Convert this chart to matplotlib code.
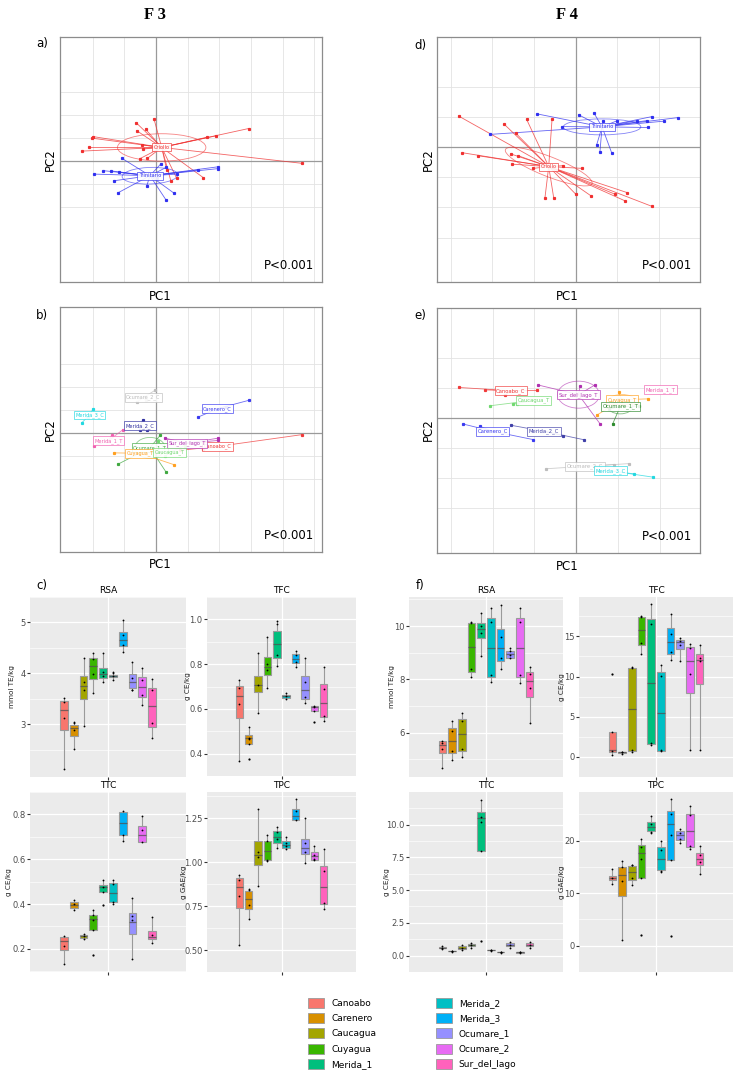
import matplotlib
matplotlib.use("Agg")
import matplotlib.pyplot as plt
from matplotlib.patches import Ellipse, Patch

W, H = 744, 1072

# ---------------- box plot data (F3 = fresh, F4 = fermented) ----------------
sites = ["Canoabo", "Carenero", "Caucagua", "Cuyagua", "Merida_1",
         "Merida_2", "Merida_3", "Ocumare_1", "Ocumare_2", "Sur_del_lago"]
site_colors = ["#F8766D", "#D89000", "#A3A500", "#39B600", "#00BF7D",
               "#00BFC4", "#00B0F6", "#9590FF", "#E76BF3", "#FF62BC"]

# each row: whislo, q1, median, q3, whishi
f3_rsa = [[2.12, 2.88, 3.28, 3.45, 3.52], [2.51, 2.77, 2.92, 2.99, 3.05],
          [2.97, 3.49, 3.74, 3.95, 4.31], [3.61, 3.89, 4.14, 4.31, 4.39],
          [3.83, 3.90, 3.98, 4.10, 4.39], [3.86, 3.92, 3.95, 3.96, 4.02],
          [4.42, 4.53, 4.66, 4.82, 5.04], [3.67, 3.71, 3.82, 3.98, 4.22],
          [3.37, 3.53, 3.73, 3.92, 4.11], [2.73, 2.95, 3.35, 3.71, 3.89]]
f3_rsa_pts = [[3.43, 3.13], [3.03, 2.88], [3.83, 3.67], [4.29, 3.98], [4.02, 3.94],
              [4.00, 3.94], [4.75, 4.56], [3.91, 3.67], [3.87, 3.58], [3.67, 3.03]]
f3_rsa_out = [[], [], [], [], [], [], [], [], [], []]

f3_tfc = [[0.369, 0.560, 0.659, 0.703, 0.729], [0.443, 0.443, 0.469, 0.484, 0.518],
          [0.583, 0.675, 0.707, 0.745, 0.851], [0.692, 0.752, 0.787, 0.831, 0.921],
          [0.790, 0.828, 0.888, 0.949, 0.994], [0.646, 0.650, 0.656, 0.661, 0.671],
          [0.787, 0.803, 0.824, 0.845, 0.857], [0.627, 0.646, 0.684, 0.745, 0.828],
          [0.592, 0.592, 0.610, 0.613, 0.615], [0.544, 0.564, 0.628, 0.710, 0.786]]
f3_tfc_pts = [[0.694, 0.622], [0.469, 0.465], [0.707], [0.80, 0.773], [0.978, 0.84],
              [0.656], [0.84, 0.81], [0.72, 0.654], [0.61], [0.69, 0.566]]
f3_tfc_out = [[], [0.376], [], [], [], [], [], [], [0.541], []]

f3_ttc = [[0.133, 0.196, 0.235, 0.254, 0.256], [0.372, 0.381, 0.394, 0.408, 0.418],
          [0.246, 0.250, 0.257, 0.264, 0.268], [0.283, 0.283, 0.332, 0.351, 0.372],
          [0.456, 0.456, 0.476, 0.485, 0.506], [0.401, 0.411, 0.450, 0.492, 0.508],
          [0.682, 0.706, 0.761, 0.810, 0.814], [0.157, 0.265, 0.321, 0.358, 0.425],
          [0.679, 0.679, 0.710, 0.749, 0.793], [0.226, 0.242, 0.254, 0.282, 0.344]]
f3_ttc_pts = [[0.214], [0.40], [0.257], [0.35, 0.33], [0.476], [0.49, 0.41],
              [0.71], [0.345, 0.33], [0.73], [0.262]]
f3_ttc_out = [[], [], [], [0.175], [0.394], [], [], [], [], []]

f3_tpc = [[0.530, 0.741, 0.856, 0.907, 0.927], [0.677, 0.733, 0.790, 0.834, 0.846],
          [0.863, 0.986, 1.042, 1.118, 1.303], [1.008, 1.015, 1.063, 1.118, 1.156],
          [1.083, 1.110, 1.142, 1.176, 1.201], [1.076, 1.083, 1.100, 1.118, 1.144],
          [1.240, 1.240, 1.262, 1.300, 1.359], [0.995, 1.049, 1.080, 1.130, 1.249],
          [1.012, 1.012, 1.034, 1.058, 1.093], [0.733, 0.761, 0.860, 0.978, 1.076]]
f3_tpc_pts = [[0.90, 0.81], [0.84, 0.755], [1.06, 1.03], [1.12, 1.015], [1.17, 1.13],
              [1.11, 1.09], [1.29], [1.11, 1.06], [1.04, 1.02], [0.95, 0.77]]
f3_tpc_out = [[], [], [], [], [], [], [], [], [], []]

f4_rsa = [[4.66, 5.23, 5.54, 5.69, 5.70], [4.98, 5.25, 5.70, 6.16, 6.45],
          [5.08, 5.33, 5.94, 6.50, 6.73], [8.08, 8.29, 9.23, 10.10, 10.16],
          [8.89, 9.54, 9.88, 10.10, 10.48], [7.89, 8.10, 9.16, 10.29, 10.66],
          [8.38, 8.70, 9.19, 9.88, 10.79], [8.81, 8.81, 8.95, 9.06, 9.19],
          [7.88, 8.08, 9.17, 10.30, 10.68], [6.38, 7.33, 7.94, 8.26, 8.45]]
f4_rsa_pts = [[5.6, 5.4], [6.06, 5.33], [6.45, 5.4], [10.12, 8.38], [10.0, 9.75],
              [10.16, 8.15], [9.6, 8.8], [9.05, 8.9], [10.16, 8.15], [8.2, 7.66]]
f4_rsa_out = [[], [], [], [], [], [], [], [], [], []]

f4_tfc = [[0.27, 0.65, 0.84, 3.13, 3.13], [0.38, 0.46, 0.57, 0.61, 0.65],
          [0.65, 0.76, 5.99, 11.07, 11.15], [12.86, 13.93, 15.84, 17.37, 17.50],
          [1.53, 1.60, 9.16, 17.18, 19.05], [0.73, 0.73, 5.42, 10.50, 11.45],
          [12.10, 12.79, 14.27, 15.99, 17.82], [11.98, 13.44, 14.27, 14.58, 14.85],
          [0.92, 7.90, 11.98, 13.63, 14.00], [0.92, 9.05, 12.10, 12.75, 13.90]]
f4_tfc_pts = [[0.75], [0.55], [11.1, 0.8], [17.4, 14.2], [16.5, 1.7], [10.1, 0.8],
              [15.3, 13.0], [14.4, 13.9], [13.6, 10.3], [12.3, 11.9]]
f4_tfc_out = [[10.3], [], [], [], [], [], [], [], [], []]

f4_ttc = [[0.48, 0.55, 0.60, 0.64, 0.70], [0.30, 0.32, 0.34, 0.36, 0.38],
          [0.42, 0.48, 0.55, 0.70, 0.80], [0.60, 0.76, 0.82, 0.92, 0.98],
          [7.95, 7.95, 10.48, 10.95, 11.90], [0.38, 0.40, 0.42, 0.44, 0.46],
          [0.22, 0.24, 0.26, 0.28, 0.30], [0.55, 0.71, 0.83, 1.00, 1.07],
          [0.20, 0.22, 0.25, 0.28, 0.30], [0.55, 0.71, 0.83, 1.00, 1.07]]
f4_ttc_pts = [[0.6], [0.34], [0.55], [0.82], [10.6, 10.2], [0.42], [0.26], [0.83], [0.25], [0.83]]
f4_ttc_out = [[], [], [], [], [1.14], [], [], [], [], []]

f4_tpc = [[11.67, 12.60, 12.88, 13.32, 14.52], [1.10, 9.48, 13.42, 15.07, 16.16],
          [11.50, 12.44, 13.97, 15.18, 15.34], [12.88, 12.88, 17.70, 19.18, 20.38],
          [21.37, 21.75, 22.63, 23.56, 24.66], [13.97, 14.41, 16.55, 18.79, 20.00],
          [16.33, 16.33, 23.12, 25.64, 27.95], [19.56, 20.16, 20.99, 21.92, 22.19],
          [18.47, 18.79, 21.92, 25.10, 26.58], [13.59, 15.34, 16.55, 17.70, 18.90]]
f4_tpc_pts = [[12.9], [14.9, 12.3], [15.3, 12.8], [18.7, 16.5], [23.2, 21.6],
              [18.3, 14.2], [25.0, 21.1], [21.5, 20.3], [24.9, 18.9], [17.3, 16.0]]
f4_tpc_out = [[], [], [], [2.08], [], [], [1.92], [], [], []]

# ---------------- PCA scores ----------------
crio_a_x = [-0.63, -0.06, -0.33, -0.61, -1.98, -2.01, -2.11, -2.34, -0.45, -0.42,
            -0.51, -0.27, 1.88, 1.60, 2.92, 4.60, 1.49, 0.65, 0.47, 0.34]
crio_a_y = [1.67, 1.81, 1.38, 1.32, 1.06, 0.99, 0.59, 0.43, 0.70, 0.52,
            0.10, 0.12, 1.09, 1.03, 1.41, -0.10, -0.72, -0.74, -0.87, -0.39]
trin_a_x = [-1.08, -1.66, -1.43, -1.17, -1.95, -1.33, -1.21, -0.29, 0.32, 0.58,
            0.15, 0.32, 1.97, 1.97, 1.34, 0.65, 0.02]
trin_a_y = [0.12, -0.42, -0.43, -0.49, -0.57, -0.86, -1.39, -1.07, -1.70, -1.41,
            -0.13, -0.28, -0.25, -0.33, -0.39, -0.57, -0.75]
crio_d_x = [-2.81, -2.72, -2.34, -1.72, -1.18, -0.57, -1.44, -1.56, -1.38, -1.53, -1.02,
            -0.74, -0.53, 0.00, 0.36, 0.16, -0.30, 0.94, 1.24, 1.18, 1.82]
crio_d_y = [1.04, -0.18, -0.28, 0.77, 0.93, 0.93, 0.47, -0.22, -0.28, -0.56, -0.70,
            -1.68, -1.68, -1.56, -1.61, -0.70, -0.61, -1.56, -1.51, -1.78, -1.96]
trin_d_x = [-0.92, 0.07, 0.44, 0.66, 1.00, 1.48, 1.82, 1.71, 2.11, 2.46, 1.74,
            -2.06, -0.32, 0.50, 0.58, 0.86]
trin_d_y = [1.11, 1.08, 1.13, 0.89, 0.89, 0.89, 1.02, 0.89, 0.87, 0.99, 0.66,
            0.43, 0.69, 0.08, -0.14, -0.18]

# group: (label, colour, centre, point list)
groups_b = [
    ("Ocumare_2_C", "#BDBDBD", (-0.40, 1.54), [(-0.03, 1.86), (-0.61, 1.35), (-0.32, 1.42)]),
    ("Carenero_C", "#3A3AF0", (1.94, 1.06), [(2.92, 1.42), (1.34, 0.70), (2.20, 1.15)]),
    ("Merida_3_C", "#22D8E0", (-2.10, 0.78), [(-1.98, 1.06), (-2.34, 0.45), (-2.14, 0.70)]),
    ("Merida_2_C", "#3030A0", (-0.50, 0.32), [(-0.42, 0.55), (-0.29, 0.14), (-0.51, 0.12)]),
    ("Merida_1_T", "#F060B0", (-1.50, -0.33), [(-1.05, 0.14), (-1.95, -0.55), (-1.40, -0.10)]),
    ("Ocumare_1_T", "#40A840", (-0.19, -0.64), [(-1.21, -1.36), (0.32, -1.70), (0.13, -0.10)]),
    ("Cuyagua_T", "#FFA020", (-0.50, -0.88), [(-1.33, -0.86), (0.58, -1.38), (0.00, -0.70)]),
    ("Canoabo_C", "#F03A3A", (1.95, -0.58), [(4.60, -0.07), (0.76, -0.75), (1.49, -0.71)]),
    ("Sur_del_lago_T", "#B030B0", (0.98, -0.44), [(0.28, -0.22), (1.97, -0.22), (1.97, -0.32)]),
    ("Caucagua_T", "#70D870", (0.44, -0.84), [(0.05, -0.35), (0.90, -0.55), (0.30, -1.00)]),
]
groups_e = [
    ("Canoabo_C", "#F03A3A", (-1.56, 0.91), [(-2.80, 1.02), (-0.94, 0.92), (-1.70, 0.76), (-2.18, 0.94)]),
    ("Caucagua_T", "#70D870", (-1.02, 0.59), [(-2.06, 0.41), (-1.42, 0.48), (-1.50, 0.47)]),
    ("Sur_del_lago_T", "#B030B0", (0.06, 0.78), [(-0.90, 1.10), (0.10, 1.08), (0.46, 1.11), (0.58, -0.20)]),
    ("Cuyagua_T", "#FFA020", (1.10, 0.61), [(1.02, 0.86), (0.50, 0.10), (1.72, 0.64)]),
    ("Merida_1_T", "#F060B0", (2.03, 0.94), [(2.00, 0.95)]),
    ("Ocumare_1_T", "#2E8B2E", (1.06, 0.39), [(0.88, -0.19), (1.50, 0.40), (0.80, 0.30)]),
    ("Carenero_C", "#3A3AF0", (-2.00, -0.44), [(-2.70, -0.20), (-1.02, -0.72), (-2.30, -0.28)]),
    ("Merida_2_C", "#4040A8", (-0.77, -0.44), [(-1.56, -0.24), (0.18, -0.72), (-0.30, -0.59)]),
    ("Ocumare_2_C", "#BDBDBD", (0.22, -1.61), [(-0.72, -1.69), (1.26, -1.52), (0.90, -1.55)]),
    ("Merida_3_C", "#22D8E0", (0.83, -1.76), [(1.84, -1.97), (1.38, -1.86)]),
]


def px_rect(x0, y0, x1, y1):
    return [x0 / W, 1 - y1 / H, (x1 - x0) / W, (y1 - y0) / H]


def fx(x):
    return x / W


def fy(y):
    return 1 - y / H


def pca_frame(ax, xlim, ylim, xgrid, ygrid):
    ax.set_xlim(*xlim)
    ax.set_ylim(*ylim)
    for g in xgrid:
        ax.axvline(g, color="#E3E3E3", lw=0.6, zorder=0)
    for g in ygrid:
        ax.axhline(g, color="#E3E3E3", lw=0.6, zorder=0)
    ax.axvline(0, color="#9A9A9A", lw=0.9, zorder=1)
    ax.axhline(0, color="#9A9A9A", lw=0.9, zorder=1)
    ax.set_xticks([])
    ax.set_yticks([])
    for s in ax.spines.values():
        s.set_color("#8C8C8C")
        s.set_linewidth(0.9)
    ax.text(0.97, 0.04, "P<0.001", transform=ax.transAxes, ha="right", va="bottom", fontsize=8.5)


def star(ax, name, col, centre, xs, ys, ell=None, fs=3.6):
    cx, cy = centre
    for x, y in zip(xs, ys):
        ax.plot([cx, x], [cy, y], color=col, lw=0.6, alpha=0.75, zorder=2)
    ax.plot(xs, ys, "s", color=col, ms=1.3, zorder=3)
    if ell is not None:
        w, h, ang = ell
        ax.add_patch(Ellipse((cx, cy), w, h, angle=ang, fill=False, ec=col, lw=0.6, alpha=0.6, zorder=2))
    ax.text(cx, cy, name, fontsize=fs, color=col, ha="center", va="center", zorder=4,
            bbox=dict(boxstyle="square,pad=0.3", fc="white", ec=col, lw=0.5, alpha=0.9))


fig = plt.figure(figsize=(W / 100, H / 100), dpi=100)

fig.text(fx(155), fy(15), "F 3", ha="center", va="center", fontsize=12, fontweight="bold",
         family="Liberation Serif")
fig.text(fx(567), fy(15), "F 4", ha="center", va="center", fontsize=12, fontweight="bold",
         family="Liberation Serif")

# ---- a) ----
ax = fig.add_axes(px_rect(60, 37, 322, 282))
pca_frame(ax, (-3.03, 5.24), (-5.26, 5.39), [-2, -1, 1, 2, 3, 4, 5], [-2, -1, 1, 2, 3])
star(ax, "Criollo", "#F03030", (0.18, 0.59), crio_a_x, crio_a_y, (2.79, 1.19, 0))
star(ax, "Trinitario", "#3030F0", (-0.19, -0.64), trin_a_x, trin_a_y, (1.76, 0.72, 3))

# ---- d) ----
ax = fig.add_axes(px_rect(437, 37, 700, 282))
pca_frame(ax, (-3.33, 2.98), (-4.48, 3.67), [-3, -2, -1, 1, 2], [-3, -2, -1, 1, 2])
star(ax, "Trinitario", "#3030F0", (0.63, 0.68), trin_d_x, trin_d_y, (1.86, 0.53, 0))
star(ax, "Criollo", "#F03030", (-0.65, -0.64), crio_d_x, crio_d_y, (2.37, 0.62, -29.6))

# ---- b) ----
ax = fig.add_axes(px_rect(60, 307, 322, 552))
pca_frame(ax, (-3.03, 5.24), (-5.17, 5.48), [-2, -1, 1, 2, 3, 4, 5], [-2, -1, 1, 2, 3])
for name, col, c, pts in groups_b:
    ell = (0.95, 0.9, 0) if name == "Ocumare_1_T" else None
    star(ax, name, col, c, [p[0] for p in pts], [p[1] for p in pts], ell, fs=3.6)

# ---- e) ----
ax = fig.add_axes(px_rect(437, 308, 700, 553))
pca_frame(ax, (-3.33, 2.97), (-4.5, 3.67), [-3, -2, -1, 1, 2], [-3, -2, -1, 1, 2])
ells_e = {"Sur_del_lago_T": (1.0, 0.9, 0), "Cuyagua_T": (0.6, 0.35, 0), "Ocumare_1_T": (0.6, 0.5, 0)}
for name, col, c, pts in groups_e:
    star(ax, name, col, c, [p[0] for p in pts], [p[1] for p in pts], ells_e.get(name), fs=3.8)

# PCA labels
for (x, y, t) in [(42, 44, "a)"), (420, 45, "d)"), (42, 316, "b)"), (420, 316, "e)"),
                  (42, 586, "c)"), (420, 586, "f)")]:
    fig.text(fx(x), fy(y), t, ha="center", va="center", fontsize=8.5)
for (x, y) in [(160, 296), (567, 296), (160, 565), (567, 566)]:
    fig.text(fx(x), fy(y), "PC1", ha="center", va="center", fontsize=8.5)
for (x, y) in [(50, 160), (428, 160), (50, 430), (428, 430)]:
    fig.text(fx(x), fy(y), "PC2", ha="center", va="center", fontsize=8.5, rotation=90)


# ---------------- box plots ----------------
def box_panel(rect, title, stats, pts, outs, ylim, ticks, ticklabels, ylab, ylab_x):
    ax = fig.add_axes(px_rect(*rect))
    ax.set_facecolor("#EBEBEB")
    bstats = []
    for i, s in enumerate(stats):
        bstats.append(dict(whislo=s[0], q1=s[1], med=s[2], q3=s[3], whishi=s[4], fliers=outs[i]))
    pos = list(range(len(stats)))
    bp = ax.bxp(bstats, positions=pos, widths=0.8, patch_artist=True, showcaps=False,
                boxprops=dict(edgecolor="#9A9A9A", linewidth=0.8),
                whiskerprops=dict(color="#9A9A9A", linewidth=0.8),
                medianprops=dict(color="#505050", linewidth=0.9, alpha=0.75),
                flierprops=dict(marker="o", markerfacecolor="black", markeredgecolor="none",
                                markersize=1.6))
    for patch, col in zip(bp["boxes"], site_colors):
        patch.set_facecolor(col)
        patch.set_zorder(2)
    for i, s in enumerate(stats):
        ys = [s[0], s[4]] + pts[i]
        ax.plot([i] * len(ys), ys, "o", color="black", ms=1.3, mec="none", zorder=4)
    ax.set_xlim(4.5 - 7.96, 4.5 + 7.96)
    ax.set_ylim(*ylim)
    ax.set_yticks(ticks)
    ax.set_yticklabels(ticklabels)
    minor = [(a + b) / 2 for a, b in zip(ticks[:-1], ticks[1:])]
    step = ticks[1] - ticks[0]
    minor = [ticks[0] - step / 2] + minor + [ticks[-1] + step / 2]
    ax.set_yticks(minor, minor=True)
    ax.set_xticks([4.5])
    ax.set_xticklabels([""])
    ax.grid(True, which="major", color="white", lw=0.9, zorder=0)
    ax.grid(True, which="minor", axis="y", color="white", lw=0.45, zorder=0)
    ax.set_axisbelow(True)
    ax.tick_params(axis="both", which="major", length=2, color="#333333", labelsize=6,
                   labelcolor="#4D4D4D", pad=1.2)
    ax.tick_params(axis="y", which="minor", length=0)
    for sp in ax.spines.values():
        sp.set_visible(False)
    ax.set_title(title, fontsize=6.5, pad=3)
    fig.text(fx(ylab_x), 1 - ((rect[1] + rect[3]) / 2) / H, ylab, rotation=90, ha="center",
             va="center", fontsize=5.2, color="#222222")
    return ax


box_panel((30, 597, 186, 777), "RSA", f3_rsa, f3_rsa_pts, f3_rsa_out, (1.96, 5.18),
          [3, 4, 5], ["3", "4", "5"], "mmol TE/kg", 12)
box_panel((207, 597, 356, 776), "TFC", f3_tfc, f3_tfc_pts, f3_tfc_out, (0.34, 1.024),
          [0.4, 0.6, 0.8, 1.0], ["0.4", "0.6", "0.8", "1.0"], "g CE/kg", 188)
box_panel((30, 792, 186, 972), "TTC", f3_ttc, f3_ttc_pts, f3_ttc_out, (0.097, 0.847),
          [0.2, 0.4, 0.6, 0.8], ["0.2", "0.4", "0.6", "0.8"], "g CE/kg", 9)
box_panel((207, 792, 356, 972), "TPC", f3_tpc, f3_tpc_pts, f3_tpc_out, (0.486, 1.399),
          [0.5, 0.75, 1.0, 1.25], ["0.50", "0.75", "1.00", "1.25"], "g GAE/kg", 184)
box_panel((409, 597, 563, 777), "RSA", f4_rsa, f4_rsa_pts, f4_rsa_out, (4.34, 11.09),
          [6, 8, 10], ["6", "8", "10"], "mmol TE/kg", 392)
box_panel((579, 597, 733, 777), "TFC", f4_tfc, f4_tfc_pts, f4_tfc_out, (-0.61, 19.89),
          [0, 5, 10, 15], ["0", "5", "10", "15"], "g CE/kg", 562)
box_panel((409, 792, 563, 972), "TTC", f4_ttc, f4_ttc_pts, f4_ttc_out, (-0.38, 12.48),
          [0, 2.5, 5, 7.5, 10], ["0.0", "2.5", "5.0", "7.5", "10.0"], "g CE/kg", 387)
box_panel((579, 792, 733, 972), "TPC", f4_tpc, f4_tpc_pts, f4_tpc_out, (-0.33, 29.26),
          [0, 10, 20], ["0", "10", "20"], "g GAE/kg", 562)

# ---------------- legend ----------------
handles = [Patch(facecolor=c, edgecolor="#9A9A9A", lw=0.6) for c in site_colors]
fig.legend(handles, sites, ncol=2, loc="upper left", bbox_to_anchor=(fx(300), fy(990)),
           frameon=False, fontsize=6.5, handlelength=1.75, handleheight=1.3,
           columnspacing=6.6, labelspacing=0.58, handletextpad=0.8)

fig.savefig("out.png", dpi=100)
